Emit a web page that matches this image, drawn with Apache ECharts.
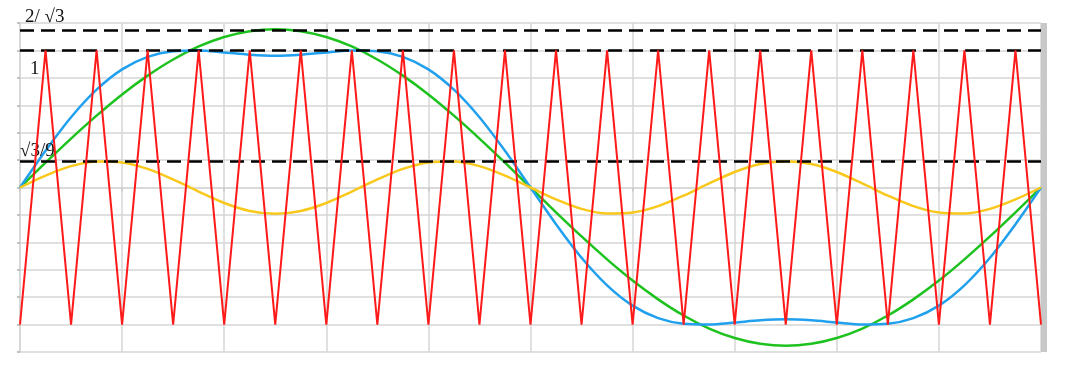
<!DOCTYPE html>
<html>
<head>
<meta charset="utf-8">
<script src="https://cdn.jsdelivr.net/npm/echarts@6/dist/echarts.min.js"></script>
<style>html,body{margin:0;padding:0;background:#fff}#c{width:1080px;height:378px}</style>
</head>
<body>
<div id="c"></div>
<script>
// angle in degrees
var angles = [0,9,18,27,36,45,54,63,72,81,90,99,108,117,126,135,144,153,162,171,180,189,198,207,216,225,234,243,252,261,270,279,288,297,306,315,324,333,342,351,360];
// triangular carrier
var carrier = [-1,1,-1,1,-1,1,-1,1,-1,1,-1,1,-1,1,-1,1,-1,1,-1,1,-1,1,-1,1,-1,1,-1,1,-1,1,-1,1,-1,1,-1,1,-1,1,-1,1,-1];
// fundamental (green)
var fundamental = [0,0.181,0.357,0.524,0.679,0.816,0.934,1.029,1.098,1.140,1.155,1.140,1.098,1.029,0.934,0.816,0.679,0.524,0.357,0.181,0,-0.181,-0.357,-0.524,-0.679,-0.816,-0.934,-1.029,-1.098,-1.140,-1.155,-1.140,-1.098,-1.029,-0.934,-0.816,-0.679,-0.524,-0.357,-0.181,0];
// third harmonic (yellow)
var third = [0,0.087,0.156,0.190,0.183,0.136,0.059,-0.030,-0.113,-0.171,-0.192,-0.171,-0.113,-0.030,0.059,0.136,0.183,0.190,0.156,0.087,0,-0.087,-0.156,-0.190,-0.183,-0.136,-0.059,0.030,0.113,0.171,0.192,0.171,0.113,0.030,-0.059,-0.136,-0.183,-0.190,-0.156,-0.087,0];
// modulating wave with injection (blue)
var modulated = [0,0.268,0.513,0.714,0.862,0.953,0.994,0.999,0.985,0.969,0.962,0.969,0.985,0.999,0.994,0.953,0.862,0.714,0.513,0.268,0,-0.268,-0.513,-0.714,-0.862,-0.953,-0.994,-0.999,-0.985,-0.969,-0.962,-0.969,-0.985,-0.999,-0.994,-0.953,-0.862,-0.714,-0.513,-0.268,0];
// reference levels
var refLevels = [1.1547, 1, 0.19245];
var refLabels = ['2/ \u221A3', '1', '\u221A3/9'];
var refLabelPos = ['insideStartTop', 'insideStartBottom', 'insideStartTop'];
var refLabelDist = [[5, 3], [10, 9], [0, 1]];

function pairs(vals){ return angles.map(function(a,i){ return [a, vals[i]]; }); }

var chart = echarts.init(document.getElementById('c'), null, {renderer:'canvas'});
var gridColor = '#d6d6d6';
var option = {
  animation: false,
  backgroundColor: '#ffffff',
  grid: {left: 20, right: 39, top: 23, bottom: 26, containLabel: false},
  xAxis: {
    type: 'value', min: 0, max: 360, interval: 36,
    axisLabel: {show: false},
    axisLine: {show: true, lineStyle: {color: gridColor, width: 1.5}},
    axisTick: {show: true, length: 4, lineStyle: {color: '#c8c8c8', width: 1.5}},
    splitLine: {show: true, lineStyle: {color: gridColor, width: 1.5}}
  },
  yAxis: [{
    type: 'value', min: -1.2, max: 1.2, interval: 0.2,
    axisLabel: {show: false},
    axisLine: {show: true, lineStyle: {color: gridColor, width: 1.5}},
    axisTick: {show: true, length: 3, lineStyle: {color: '#b0b0b0', width: 1.5}},
    splitLine: {show: true, lineStyle: {color: gridColor, width: 1.5}}
  }, {
    type: 'value', min: -1.2, max: 1.2, position: 'right', offset: 3,
    axisLabel: {show: false}, axisTick: {show: false}, splitLine: {show: false},
    axisLine: {show: true, lineStyle: {color: '#c8c8c8', width: 6, cap: 'butt'}}
  }],
  series: [
    {name: 'fundamental', type: 'line', data: pairs(fundamental), smooth: 0.3, showSymbol: false,
     lineStyle: {color: '#1ec21e', width: 2.5}, z: 2},
    {name: 'modulated', type: 'line', data: pairs(modulated), smooth: 0.3, showSymbol: false,
     lineStyle: {color: '#21a0ee', width: 2.5}, z: 3},
    {name: 'third', type: 'line', data: pairs(third), smooth: 0.3, showSymbol: false,
     lineStyle: {color: '#f8c81c', width: 2.5}, z: 4},
    {name: 'carrier', type: 'line', data: pairs(carrier), showSymbol: false,
     lineStyle: {color: '#ff1a1a', width: 2}, z: 5},
    {name: 'refs', type: 'line', data: [], z: 6,
     markLine: {
       silent: true, symbol: ['none','none'], animation: false,
       lineStyle: {color: '#000', type: [14, 7], width: 2.5},
       data: refLevels.map(function(v,i){
         return {yAxis: v, label: {show: true, formatter: refLabels[i], position: refLabelPos[i],
           distance: refLabelDist[i], color: '#111', fontFamily: 'Liberation Serif', fontSize: 19}};
       })
     }}
  ]
};
chart.setOption(option);
</script>
</body>
</html>
